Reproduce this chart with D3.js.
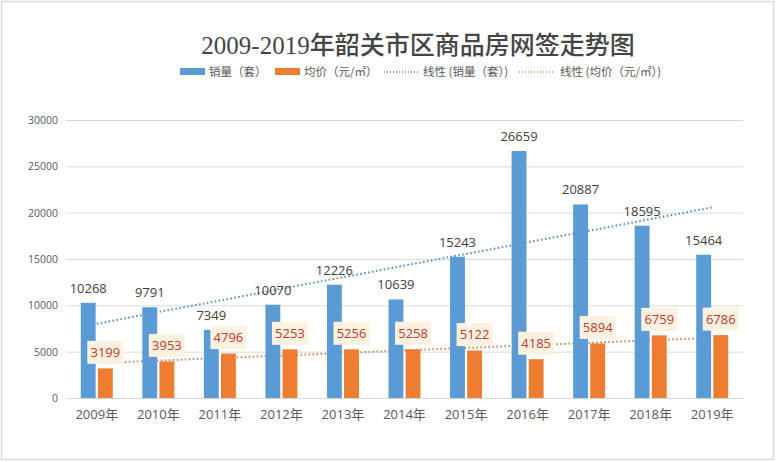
<!DOCTYPE html>
<html><head><meta charset="utf-8">
<script src="https://cdn.jsdelivr.net/npm/d3@7"></script>
<style>
html,body{margin:0;padding:0;background:#fff;}
svg{display:block;}
</style></head>
<body>
<svg id="chart" width="776" height="462"></svg>
<script>
const categories = ["2009年","2010年","2011年","2012年","2013年","2014年","2015年","2016年","2017年","2018年","2019年"];
const sales = [10268, 9791, 7349, 10070, 12226, 10639, 15243, 26659, 20887, 18595, 15464];
const prices = [3199, 3953, 4796, 5253, 5256, 5258, 5122, 4185, 5894, 6759, 6786];
const yTicks = [0, 5000, 10000, 15000, 20000, 25000, 30000];
const seriesNames = ["销量（套）", "均价（元/㎡）"];
const trendNames = ["线性 (销量（套）)", "线性 (均价（元/㎡）)"];
const titleText = "2009-2019年韶关市区商品房网签走势图";

const blue = "#5b9bd5", orange = "#ed7d31";
const svg = d3.select("#chart");
const W = 776, H = 462;
const m = {l: 66, r: 33, t: 120, b: 64};

svg.append("rect").attr("x",1.5).attr("y",1.5).attr("width",W-4).attr("height",H-4)
  .attr("fill","#fff").attr("stroke","#d9d9d9").attr("stroke-width",1.5);

const x = d3.scaleBand().domain(categories).range([m.l, W - m.r]).padding(0);
const y = d3.scaleLinear().domain([0, 30000]).range([H - m.b, m.t]);
const inner = d3.scaleBand().domain([0,1])
  .range([x.bandwidth()/2 - 16, x.bandwidth()/2 + 16]).paddingInner(0.13);

// gridlines
const yAxis = d3.axisLeft(y).tickValues(yTicks).tickSize(-(W - m.r - m.l)).tickFormat(d3.format("d")).tickPadding(8);
const ga = svg.append("g").attr("transform",`translate(${m.l},0)`).call(yAxis);
ga.select(".domain").remove();
ga.selectAll(".tick line").attr("stroke","#d9d9d9").attr("stroke-width",1);
ga.selectAll(".tick text").attr("fill","#595959").style("font-family","'Open Sans','Noto Sans',sans-serif").style("font-size","10.5px");

// x axis
const xAxis = d3.axisBottom(x).tickSize(0).tickPadding(12);
const gx = svg.append("g").attr("transform",`translate(0,${y(0)})`).call(xAxis);
gx.select(".domain").attr("stroke","#d9d9d9");
gx.selectAll(".tick text").attr("fill","#595959")
  .style("font-family","'Open Sans','Noto Sans CJK SC',sans-serif").style("font-size","13px");

// linear trend (least squares, as in Excel trendline)
function fit(vals){
  const n = vals.length, xm = (n-1)/2, ym = d3.mean(vals);
  let sxy = 0, sxx = 0;
  vals.forEach((v,i)=>{ sxy += (i-xm)*(v-ym); sxx += (i-xm)*(i-xm); });
  const b = sxy/sxx, a = ym - b*xm;
  return [0, n-1].map(i => [i, a + b*i]);
}
const cx = i => x(categories[i]) + x.bandwidth()/2;
const line = d3.line().x(d => cx(d[0])).y(d => y(d[1]));
svg.append("path").attr("d", line(fit(sales))).attr("fill","none")
  .attr("stroke","#5b8fc0").attr("stroke-width",2).attr("stroke-dasharray","1.6 2.4");
svg.append("path").attr("d", line(fit(prices))).attr("fill","none")
  .attr("stroke","#c98a52").attr("stroke-width",2).attr("stroke-dasharray","1.6 2.4");

// bars
const g = svg.append("g");
g.selectAll(".b1").data(sales).join("rect")
  .attr("x",(d,i)=>x(categories[i]) + inner(0)).attr("width",inner.bandwidth())
  .attr("y",d=>y(d)).attr("height",d=>y(0)-y(d)).attr("fill",blue);
g.selectAll(".b2").data(prices).join("rect")
  .attr("x",(d,i)=>x(categories[i]) + inner(1)).attr("width",inner.bandwidth())
  .attr("y",d=>y(d)).attr("height",d=>y(0)-y(d)).attr("fill",orange);

// sales labels
svg.append("g").selectAll("text").data(sales).join("text")
  .attr("x",(d,i)=>x(categories[i]) + inner(0) + inner.bandwidth()/2)
  .attr("y",d=>y(d) - 10)
  .attr("text-anchor","middle").attr("fill","#404040")
  .style("font-family","'Open Sans','Noto Sans',sans-serif").style("font-size","13px")
  .text(d=>d);

// price labels with boxes
const pl = svg.append("g").selectAll("g").data(prices).join("g")
  .attr("transform",(d,i)=>`translate(${x(categories[i]) + inner(1) + inner.bandwidth()/2},${y(d) - 16})`);
pl.append("rect").attr("x",-18).attr("y",-11.5).attr("width",36).attr("height",23).attr("fill","#fdf1df");
pl.append("text").attr("text-anchor","middle").attr("dy","0.35em").attr("fill","#c0392b")
  .style("font-family","'Open Sans','Noto Sans',sans-serif").style("font-size","13px")
  .text(d=>d);

// title
svg.append("text").attr("x",418).attr("y",54).attr("text-anchor","middle")
  .attr("fill","#454545").style("font-family","'Liberation Serif','Noto Sans CJK SC',serif")
  .style("font-weight","500").style("font-size","25px").text(titleText);

// legend
const lg = svg.append("g").style("font-family","'Noto Sans CJK SC','Open Sans',sans-serif").style("font-size","11.5px");
const ly = 72;
lg.append("rect").attr("x",180).attr("y",ly-4).attr("width",25).attr("height",7).attr("fill",blue);
lg.append("text").attr("x",209).attr("y",ly).attr("dy","0.35em").attr("fill","#595959").text(seriesNames[0]);
lg.append("rect").attr("x",275).attr("y",ly-4).attr("width",25).attr("height",7).attr("fill",orange);
lg.append("text").attr("x",304).attr("y",ly).attr("dy","0.35em").attr("fill","#595959").text(seriesNames[1]);
lg.append("line").attr("x1",384).attr("x2",418).attr("y1",ly).attr("y2",ly)
  .attr("stroke","#5b8fc0").attr("stroke-width",1.5).attr("stroke-dasharray","1 2");
lg.append("text").attr("x",423).attr("y",ly).attr("dy","0.35em").attr("fill","#595959").text(trendNames[0]);
lg.append("line").attr("x1",519).attr("x2",555).attr("y1",ly).attr("y2",ly)
  .attr("stroke","#c98a52").attr("stroke-width",1.5).attr("stroke-dasharray","1 2");
lg.append("text").attr("x",560).attr("y",ly).attr("dy","0.35em").attr("fill","#595959").text(trendNames[1]);
</script>
</body></html>
